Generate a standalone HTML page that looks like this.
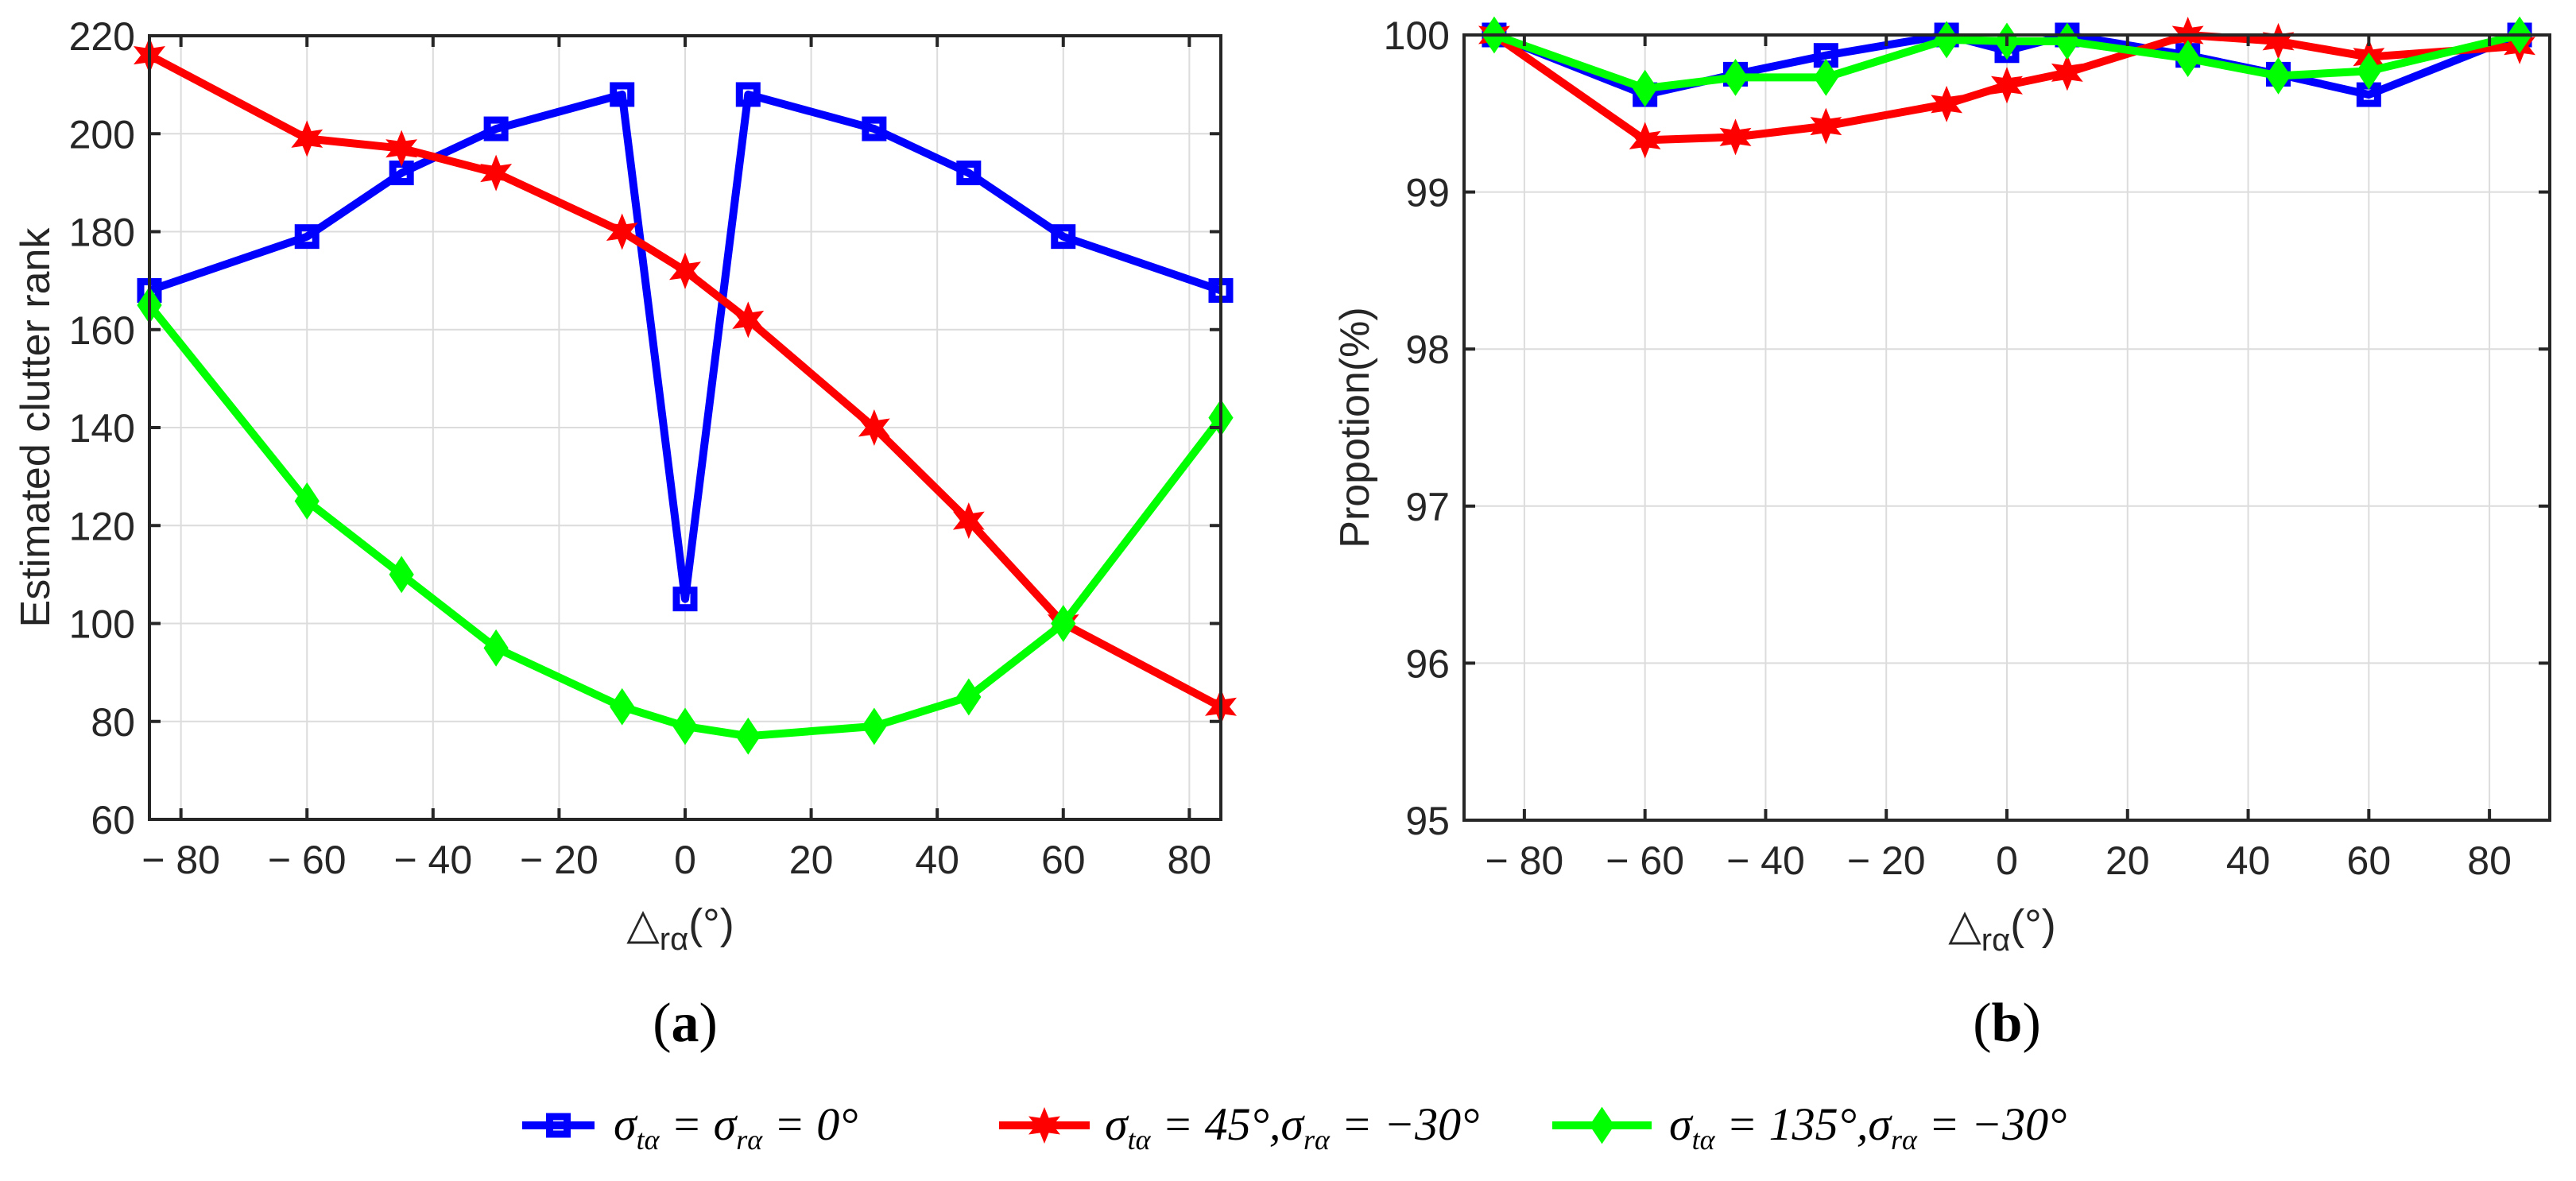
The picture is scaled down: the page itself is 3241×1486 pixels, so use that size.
<!DOCTYPE html>
<html><head><meta charset="utf-8"><style>
html,body{margin:0;padding:0;background:#fff;}
svg{display:block;}
</style></head><body>
<svg id="fig" width="3241" height="1486" viewBox="0 0 3241 1486" xmlns="http://www.w3.org/2000/svg"></svg>
<script>
const xCats = [-85,-60,-45,-30,-10,0,10,30,45,60,85];
const rankBlue  = [168,179,192,201,208,105,208,201,192,179,168];
const rankRed   = [216,199,197,192,180,172,162,140,121,100,83];
const rankGreen = [165,125,110,95,83,79,77,79,85,100,142];
const propBlue  = [100,99.62,99.75,99.87,100,99.9,100,99.87,99.75,99.62,100];
const propRed   = [100,99.33,99.35,99.42,99.56,99.68,99.76,100,99.96,99.86,99.93];
const propGreen = [100,99.66,99.73,99.73,99.97,99.96,99.96,99.85,99.74,99.77,100];
const xTicks = [-80,-60,-40,-20,0,20,40,60,80];
const yTicksA = [60,80,100,120,140,160,180,200,220];
const yTicksB = [95,96,97,98,99,100];

const NS='http://www.w3.org/2000/svg';
const svg=document.getElementById('fig');
function mk(tag,attrs,parent){const e=document.createElementNS(NS,tag);for(const k in attrs)e.setAttribute(k,attrs[k]);(parent||svg).appendChild(e);return e;}
const COL={blue:'#0000ff',red:'#ff0000',green:'#00ff00'};

function marker(g,type,cx,cy,color){
  let m;
  if(type==='sq'){m=mk('rect',{x:cx-11,y:cy-11,width:22,height:22,fill:'none',stroke:color,'stroke-width':9},g);}
  else if(type==='star'){
    let pts=[];for(let i=0;i<12;i++){const r=i%2?9:19;const a=-Math.PI/2+i*Math.PI/6;pts.push((cx+r*Math.cos(a)).toFixed(1)+','+(cy+r*Math.sin(a)).toFixed(1));}
    m=mk('polygon',{points:pts.join(' '),fill:color,stroke:color,'stroke-width':3},g);
  } else {
    m=mk('polygon',{points:`${cx},${cy-18} ${cx+12},${cy} ${cx},${cy+18} ${cx-12},${cy}`,fill:color,stroke:color,'stroke-width':6},g);
  }
  
  
}

function panel(cfg){
  const g=mk('g',{});
  
  
  const X=v=>cfg.L+(v-cfg.xmin)/(cfg.xmax-cfg.xmin)*(cfg.R-cfg.L);
  const Y=v=>cfg.B-(v-cfg.ymin)/(cfg.ymax-cfg.ymin)*(cfg.B-cfg.T);
  xTicks.forEach(t=>{const l=mk('line',{x1:X(t),x2:X(t),y1:cfg.T,y2:cfg.B,stroke:'#dcdcdc','stroke-width':2},g);});
  cfg.yt.forEach(t=>{const l=mk('line',{x1:cfg.L,x2:cfg.R,y1:Y(t),y2:Y(t),stroke:'#dcdcdc','stroke-width':2},g);});
  cfg.series.forEach(s=>{
    const sg=mk('g',{},g);
    
    
    const pts=xCats.map((x,i)=>X(x).toFixed(1)+','+Y(s.data[i]).toFixed(1)).join(' ');
    const pl=mk('polyline',{points:pts,fill:'none',stroke:COL[s.c],'stroke-width':10,'stroke-linejoin':'round'},sg);
    
    
    xCats.forEach((x,i)=>marker(sg,s.m,X(x),Y(s.data[i]),COL[s.c]));
  });
  const box=mk('rect',{x:cfg.L,y:cfg.T,width:cfg.R-cfg.L,height:cfg.B-cfg.T,fill:'none',stroke:'#262626','stroke-width':4},g);
  
  xTicks.forEach(t=>{
    mk('line',{x1:X(t),x2:X(t),y1:cfg.B,y2:cfg.B-14,stroke:'#262626','stroke-width':4},g);
    mk('line',{x1:X(t),x2:X(t),y1:cfg.T,y2:cfg.T+14,stroke:'#262626','stroke-width':4},g);
    const tx=mk('text',{x:X(t),y:cfg.B+68,'text-anchor':'middle','font-family':'Liberation Sans, sans-serif','font-size':50,fill:'#262626'},g);
    tx.textContent=t<0?'\u2212 '+Math.abs(t):String(t);
    
  });
  cfg.yt.forEach(t=>{
    mk('line',{x1:cfg.L,x2:cfg.L+14,y1:Y(t),y2:Y(t),stroke:'#262626','stroke-width':4},g);
    mk('line',{x1:cfg.R,x2:cfg.R-14,y1:Y(t),y2:Y(t),stroke:'#262626','stroke-width':4},g);
    const tx=mk('text',{x:cfg.L-18,y:Y(t)+18,'text-anchor':'end','font-family':'Liberation Sans, sans-serif','font-size':50,fill:'#262626'},g);
    tx.textContent=String(t);
    
  });
  const cx=(cfg.L+cfg.R)/2;
  const xl=mk('text',{x:cx-6,y:cfg.B+150,'text-anchor':'middle','font-family':'Liberation Sans, DejaVu Sans, sans-serif','font-size':54,fill:'#262626'},g);
  xl.innerHTML='△<tspan font-size="40" dy="14">rα</tspan><tspan dy="-14">(°)</tspan>';
  
  const yl=mk('text',{x:0,y:0,'text-anchor':'middle','font-family':'Liberation Sans, sans-serif','font-size':52,fill:'#262626',transform:`translate(${cfg.ylx},${(cfg.T+cfg.B)/2}) rotate(-90)`},g);
  yl.textContent=cfg.ylabel;
  
  const pl=mk('text',{x:cx,y:1310,'text-anchor':'middle','font-family':'Liberation Serif, serif','font-size':70,fill:'#000'},g);
  pl.innerHTML='(<tspan font-weight="bold">'+cfg.tag+'</tspan>)';
  
}

panel({name:'panel-a',L:188,R:1536,T:45,B:1031,xmin:-85,xmax:85,ymin:60,ymax:220,yt:yTicksA,ylabel:'Estimated clutter rank',ylx:62,tag:'a',
  series:[{name:'series-blue',data:rankBlue,c:'blue',m:'sq'},{name:'series-red',data:rankRed,c:'red',m:'star'},{name:'series-green',data:rankGreen,c:'green',m:'dia'}]});
panel({name:'panel-b',L:1842,R:3208,T:44,B:1032,xmin:-90,xmax:90,ymin:95,ymax:100,yt:yTicksB,ylabel:'Propotion(%)',ylx:1722,tag:'b',
  series:[{name:'series-blue',data:propBlue,c:'blue',m:'sq'},{name:'series-red',data:propRed,c:'red',m:'star'},{name:'series-green',data:propGreen,c:'green',m:'dia'}]});

const lg=mk('g',{});


const entries=[
  {c:'blue',m:'sq',x1:657,x2:748,tx:772,html:'σ<tspan font-size="36" dy="12">tα</tspan><tspan dy="-12"> = σ</tspan><tspan font-size="36" dy="12">rα</tspan><tspan dy="-12"> = 0°</tspan>'},
  {c:'red',m:'star',x1:1257,x2:1371,tx:1390,html:'σ<tspan font-size="36" dy="12">tα</tspan><tspan dy="-12"> = 45°,σ</tspan><tspan font-size="36" dy="12">rα</tspan><tspan dy="-12"> = −30°</tspan>'},
  {c:'green',m:'dia',x1:1953,x2:2078,tx:2100,html:'σ<tspan font-size="36" dy="12">tα</tspan><tspan dy="-12"> = 135°,σ</tspan><tspan font-size="36" dy="12">rα</tspan><tspan dy="-12"> = −30°</tspan>'}
];
entries.forEach(e=>{
  const eg=mk('g',{},lg);
  
  
  mk('line',{x1:e.x1,x2:e.x2,y1:1416,y2:1416,stroke:COL[e.c],'stroke-width':10},eg);
  marker(eg,e.m,(e.x1+e.x2)/2,1416,COL[e.c]);
  const t=mk('text',{x:e.tx,y:1434,'font-family':'Liberation Serif, serif','font-style':'italic','font-size':58,fill:'#000'},eg);
  t.innerHTML=e.html;
});
</script>
</body></html>
